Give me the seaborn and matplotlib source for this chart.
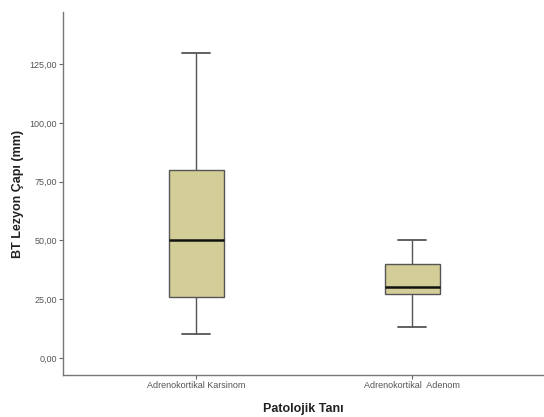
import matplotlib
matplotlib.use("Agg")
import matplotlib.pyplot as plt
import seaborn as sns
import pandas as pd

categories = ["Adrenokortikal Karsinom", "Adrenokortikal  Adenom"]
# five-number summaries: min, Q1, median, Q3, max
karsinom = [10, 26, 50, 80, 130]
adenom = [13, 27, 30, 40, 50]
yticks = [0, 25, 50, 75, 100, 125]
ytick_labels = ["0,00", "25,00", "50,00", "75,00", "100,00", "125,00"]

df = pd.DataFrame({
    "Patolojik Tanı": [categories[0]] * len(karsinom) + [categories[1]] * len(adenom),
    "BT": karsinom + adenom,
})

sns.set_style("white")
plt.rcParams['font.family'] = ['Liberation Sans', 'DejaVu Sans']

fig = plt.figure(figsize=(5.44, 4.17), dpi=100)
ax = fig.add_axes([63/544, 42/417, 1 - 63/544, (375-12)/417])

sns.boxplot(data=df, x="Patolojik Tanı", y="BT", order=categories, whis=(0, 100),
            width=0.255, color="#d3ce97", saturation=1, ax=ax,
            boxprops=dict(edgecolor="#555555", linewidth=1.0),
            whiskerprops=dict(color="#555555", linewidth=1.0),
            capprops=dict(color="#555555", linewidth=1.3),
            medianprops=dict(color="#111111", linewidth=1.8),
            capwidths=0.13)

ax.set_xlim(-0.616, 1.61)
ax.set_ylim(-7.3, 147.3)
ax.set_yticks(yticks)
ax.set_yticklabels(ytick_labels, fontsize=6.5, color="#555555")
ax.set_xticks([0, 1])
ax.set_xticklabels(categories, fontsize=6.5, color="#555555")
ax.tick_params(axis="both", direction="out", length=3, width=0.8, color="#666666", pad=1.5)
ax.tick_params(axis="y", left=True)
ax.tick_params(axis="x", bottom=True)
for s in ["top", "right"]:
    ax.spines[s].set_visible(False)
for s in ["left", "bottom"]:
    ax.spines[s].set_color("#777777")
    ax.spines[s].set_linewidth(1.0)

ax.set_ylabel("BT Lezyon Çapı (mm)", fontsize=9, fontweight="bold", color="#222222", labelpad=4)
ax.set_xlabel("Patolojik Tanı", fontsize=9, fontweight="bold", color="#222222", labelpad=9)

fig.savefig("out.png", dpi=100)
